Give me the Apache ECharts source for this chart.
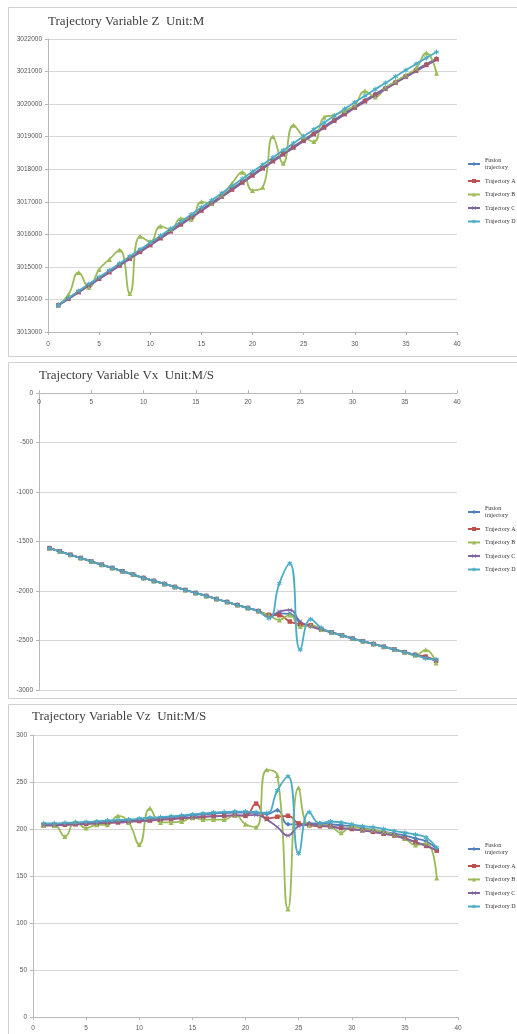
<!DOCTYPE html>
<html>
<head>
<meta charset="utf-8">
<script src="https://cdn.jsdelivr.net/npm/echarts@6/dist/echarts.min.js"></script>
<style>
html,body{margin:0;padding:0;background:#fff;}
#c{width:517px;height:1034px;}
</style>
</head>
<body>
<div id="c"></div>
<script>
// ---- data ----
const X_STEPS = [1,2,3,4,5,6,7,8,9,10,11,12,13,14,15,16,17,18,19,20,21,22,23,24,25,26,27,28,29,30,31,32,33,34,35,36,37,38];
const SERIES_NAMES = ['Fusion trajectory','Trajectory A','Trajectory B','Trajectory C','Trajectory D'];
const TITLES = ['Trajectory Variable Z  Unit:M','Trajectory Variable Vx  Unit:M/S','Trajectory Variable Vz  Unit:M/S'];
const X_TICKS = [0,5,10,15,20,25,30,35,40];
const Z_TICKS = [3013000,3014000,3015000,3016000,3017000,3018000,3019000,3020000,3021000,3022000];
const VX_TICKS = [-3000,-2500,-2000,-1500,-1000,-500,0];
const VZ_TICKS = [0,50,100,150,200,250,300];

const Z_FUSION = [3013830,3014035,3014240,3014446,3014652,3014858,3015066,3015274,3015483,3015693,3015904,3016116,3016328,3016542,3016757,3016972,3017188,3017405,3017622,3017839,3018056,3018272,3018490,3018698,3018903,3019108,3019314,3019519,3019723,3019926,3020120,3020310,3020500,3020690,3020875,3021055,3021230,3021400];
const Z_A = [3013820,3014020,3014225,3014430,3014635,3014840,3015045,3015255,3015462,3015672,3015882,3016094,3016305,3016518,3016732,3016946,3017162,3017378,3017594,3017810,3018030,3018250,3018462,3018670,3018876,3019080,3019285,3019490,3019694,3019896,3020092,3020282,3020472,3020662,3020848,3021028,3021205,3021380];
const Z_B = [3013830,3014150,3014830,3014370,3014920,3015230,3015520,3014180,3015940,3015780,3016250,3016150,3016490,3016460,3017000,3016950,3017200,3017570,3017910,3017350,3017450,3019000,3018180,3019350,3019000,3018850,3019600,3019660,3019800,3019970,3020400,3020220,3020500,3020700,3020890,3021100,3021570,3020950];
const Z_C = [3013815,3014015,3014218,3014422,3014626,3014830,3015035,3015243,3015450,3015660,3015870,3016080,3016292,3016505,3016718,3016932,3017148,3017364,3017580,3017796,3018014,3018234,3018448,3018652,3018860,3019064,3019270,3019474,3019678,3019880,3020076,3020266,3020456,3020646,3020832,3021012,3021190,3021365];
const Z_D = [3013830,3014045,3014260,3014475,3014685,3014890,3015105,3015320,3015535,3015745,3015958,3016172,3016388,3016606,3016826,3017044,3017264,3017485,3017704,3017922,3018140,3018360,3018582,3018796,3019012,3019222,3019430,3019640,3019848,3020055,3020255,3020455,3020650,3020850,3021045,3021235,3021420,3021600];

const VX_FUSION = [-1567,-1600,-1634,-1667,-1701,-1734,-1767,-1801,-1834,-1868,-1898,-1929,-1959,-1990,-2020,-2050,-2081,-2111,-2142,-2172,-2203,-2240,-2225,-2230,-2320,-2357,-2388,-2418,-2449,-2480,-2508,-2535,-2563,-2590,-2618,-2645,-2673,-2700];
const VX_A = [-1567,-1600,-1634,-1667,-1701,-1734,-1767,-1801,-1834,-1868,-1898,-1929,-1959,-1990,-2020,-2050,-2081,-2111,-2142,-2172,-2203,-2242,-2245,-2309,-2335,-2345,-2385,-2418,-2449,-2480,-2508,-2535,-2563,-2590,-2618,-2645,-2662,-2705];
const VX_B = [-1567,-1600,-1634,-1667,-1701,-1734,-1767,-1801,-1834,-1868,-1898,-1929,-1959,-1990,-2020,-2050,-2081,-2111,-2142,-2172,-2203,-2245,-2292,-2242,-2359,-2345,-2388,-2418,-2449,-2480,-2508,-2535,-2563,-2590,-2618,-2650,-2594,-2728];
const VX_C = [-1567,-1600,-1634,-1667,-1701,-1734,-1767,-1801,-1834,-1868,-1898,-1929,-1959,-1990,-2020,-2050,-2081,-2111,-2142,-2172,-2203,-2265,-2208,-2191,-2309,-2357,-2388,-2418,-2449,-2480,-2508,-2535,-2563,-2590,-2618,-2645,-2673,-2700];
const VX_D = [-1567,-1600,-1634,-1667,-1701,-1734,-1767,-1801,-1834,-1868,-1898,-1929,-1959,-1990,-2020,-2050,-2081,-2111,-2142,-2172,-2203,-2275,-1923,-1721,-2594,-2285,-2372,-2418,-2449,-2480,-2508,-2535,-2563,-2590,-2618,-2645,-2680,-2690];

const VZ_FUSION = [205,205,205.5,206,206.5,207,208,208.5,209,210,211,211.5,212.5,213.5,214.5,215.5,216.5,217,217.5,217.5,217,216,220,205,205,206,206,205,204,203,201,199,197,195,193,190,187,179];
const VZ_A = [204,204,204.5,205,205.5,206,206.5,207,207.5,208.5,209,210,210.5,211.5,212,213,213.5,214,214.5,214,227,211,213,214,206,204,203,202.5,201,200,198.5,197,195,193,190,186,182,177];
const VZ_B = [204,204,192,208,201,204.5,204.5,214,207,183.5,222,207,207,208,212,210,210,210,215,205,202,263,257,115,244,204,205,203,196,203,200,199,197,194,190,183,185,148];
const VZ_C = [204,204,204.5,205,205.5,206,206.5,207,207.5,208.5,209,210,210.5,211.5,212,213,213.5,214,214.5,214.5,215,210,202,193,203,205,204,202.5,201,200,198.5,197,195,193,190,186,182,177.5];
const VZ_D = [206,206,206.5,207,207.5,208,209,209.5,210,211,212,212.5,213.5,214.5,215.5,216.5,217.5,218,218.5,218.5,218,217,241,256,174,218,206,208,207,205,203,202,200,198,196,194,191,180];

// ---- styles ----
const COLORS = ['#4F81BD','#C0504D','#9BBB59','#8064A2','#4BACC6'];
const SYMBOLS = [
  'diamond',
  'rect',
  'triangle',
  'path://M0,1L1,0L5,4L9,0L10,1L6,5L10,9L9,10L5,6L1,10L0,9L4,5Z',
  'path://M4,0H6V3.3L8.9,1.6L9.9,3.3L7,5L9.9,6.7L8.9,8.4L6,6.7V10H4V6.7L1.1,8.4L0.1,6.7L3,5L0.1,3.3L1.1,1.6L4,3.3Z'
];
const SYM_SIZES = [5,4.5,5,4.5,5];

const DATASETS = [
  [Z_FUSION, Z_A, Z_B, Z_C, Z_D],
  [VX_FUSION, VX_A, VX_B, VX_C, VX_D],
  [VZ_FUSION, VZ_A, VZ_B, VZ_C, VZ_D]
];
const Y_TICK_SETS = [Z_TICKS, VX_TICKS, VZ_TICKS];

const LABEL_FONT = {fontFamily:'Liberation Sans', fontSize:6.5, color:'#595959'};
const GRID_COLOR = '#d6d6d6';
const AXIS_COLOR = '#b8b8b8';

const grids = [
  {left:48, top:39, width:409, height:293},
  {left:39, top:393, width:418, height:297},
  {left:33, top:735, width:425, height:282}
];

const xAxes = grids.map((g, i) => ({
  type:'value', gridIndex:i,
  min:X_TICKS[0], max:X_TICKS[X_TICKS.length-1], interval:X_TICKS[1]-X_TICKS[0],
  position: i === 1 ? 'top' : 'bottom',
  axisLine:{show:true, onZero:false, lineStyle:{color:AXIS_COLOR, width:1}},
  axisTick:{show:true, length:3, inside:false, lineStyle:{color:AXIS_COLOR}},
  splitLine:{show:false},
  axisLabel: Object.assign({margin: i === 0 ? 9 : (i === 1 ? 6 : 7.5), inside: i === 1}, LABEL_FONT)
}));

const yAxes = grids.map((g, i) => {
  const t = Y_TICK_SETS[i];
  return {
    type:'value', gridIndex:i,
    min:t[0], max:t[t.length-1], interval:t[1]-t[0],
    axisLine:{show:true, onZero:false, lineStyle:{color:AXIS_COLOR, width:1}},
    axisTick:{show:true, length:3, lineStyle:{color:AXIS_COLOR}},
    splitLine:{show:true, lineStyle:{color:GRID_COLOR, width:1.2}},
    axisLabel: Object.assign({margin:6, formatter: v => String(v)}, LABEL_FONT)
  };
});

const series = [];
DATASETS.forEach((set, gi) => {
  set.forEach((ys, si) => {
    series.push({
      type:'line', name:SERIES_NAMES[si],
      xAxisIndex:gi, yAxisIndex:gi,
      data: X_STEPS.map((x, k) => [x, ys[k]]),
      smooth:0.5,
      symbol:SYMBOLS[si], symbolSize:SYM_SIZES[si], showAllSymbol:true,
      lineStyle:{width:1.8, color:COLORS[si]},
      itemStyle:{color:COLORS[si]},
      emphasis:{disabled:true},
      clip:false
    });
  });
});

const titlePos = [{left:48, top:15}, {left:39, top:369}, {left:32, top:710}];
const titles = TITLES.map((t, i) => ({
  text:t, left:titlePos[i].left, top:titlePos[i].top, padding:0,
  textStyle:{fontFamily:'Liberation Serif', fontSize:13, fontWeight:'normal', color:'#404040'}
}));

const legendTops = [157, 505, 842];
const legends = legendTops.map(top => ({
  orient:'vertical', left:467, top:top, padding:0,
  itemWidth:12, itemHeight:5, itemGap:6.5,
  selectedMode:false,
  data:SERIES_NAMES,
  formatter: n => n === 'Fusion trajectory' ? 'Fusion\ntrajectory' : n,
  textStyle:{fontFamily:'Liberation Serif', fontSize:6, lineHeight:7, color:'#333', padding:[0,0,0,0]}
}));

const frames = [
  {y:7, h:349}, {y:362, h:336}, {y:704, h:345}
].map(f => ({
  type:'rect', shape:{x:8.5, y:f.y+0.5, width:520, height:f.h},
  style:{fill:null, stroke:'#d0d0d0', lineWidth:1}, silent:true, z:-10
}));

const chart = echarts.init(document.getElementById('c'), null, {renderer:'canvas'});
chart.setOption({
  animation:false,
  backgroundColor:'#ffffff',
  title:titles,
  legend:legends,
  grid:grids,
  xAxis:xAxes,
  yAxis:yAxes,
  series:series,
  graphic:frames
});
</script>
</body>
</html>
